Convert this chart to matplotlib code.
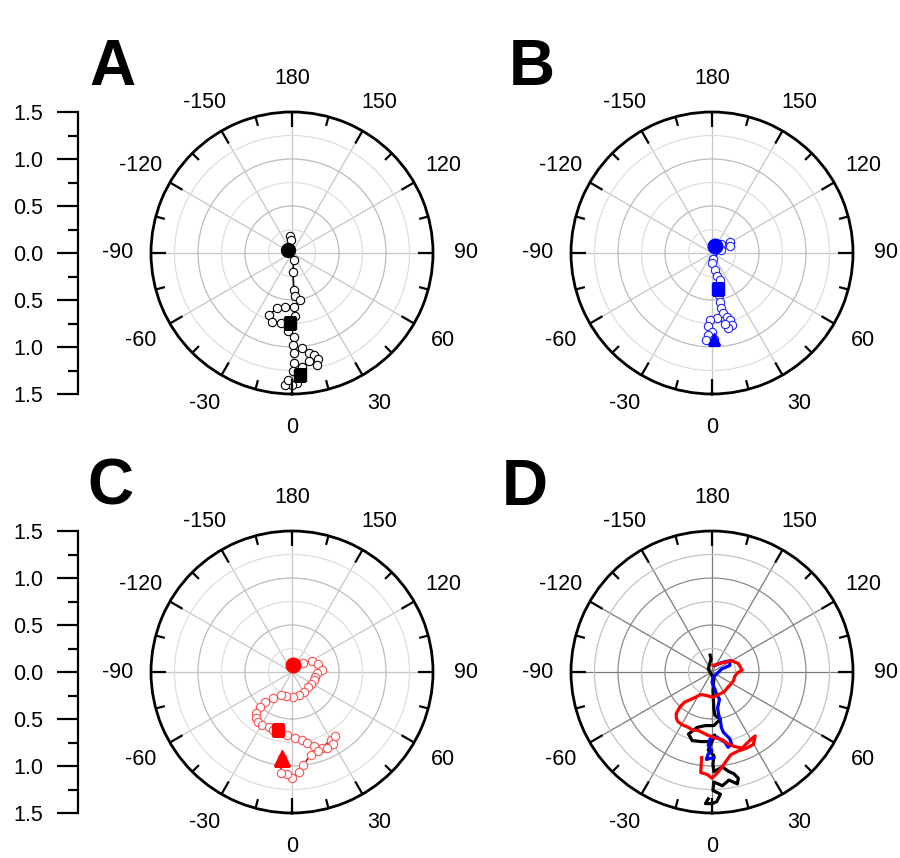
import numpy as np
import matplotlib
matplotlib.use('Agg')
import matplotlib.pyplot as plt

plt.rcParams['font.family'] = ['Liberation Sans', 'DejaVu Sans']

# Trajectories, as (x to the right, y downwards) in radius units
# Panel A (black)
a_x = [-0.02, -0.01, -0.04, 0.02, 0.01, 0.02, 0.03, 0.09, 0.02, -0.07, -0.16, -0.25, -0.21,
       -0.12, -0.02, 0.03, -0.04, 0.02, 0.01, 0.02, 0.11, 0.18, 0.23, 0.28, 0.27, 0.18, 0.11,
       0.02, 0.01, 0.09, 0.05, 0.00, -0.07, -0.04]
a_y = [-0.18, -0.14, -0.03, 0.07, 0.20, 0.39, 0.46, 0.50, 0.57, 0.57, 0.59, 0.66, 0.73,
       0.74, 0.74, 0.67, 0.83, 0.89, 0.98, 1.06, 1.01, 1.06, 1.08, 1.13, 1.19, 1.15, 1.21,
       1.17, 1.26, 1.30, 1.38, 1.40, 1.40, 1.35]
a_marks = [2, 14, 29]   # start, middle, end

# Panel B (blue)
b_x = [0.03, 0.10, 0.19, 0.19, 0.10, 0.01, 0.00, 0.03, 0.05, 0.08, 0.06, 0.07, 0.09, 0.10,
       0.12, 0.16, 0.19, 0.21, 0.17, 0.14, 0.05, -0.02, -0.04, 0.00, -0.04, -0.06, 0.02]
b_y = [-0.07, -0.10, -0.12, -0.07, -0.03, 0.06, 0.11, 0.18, 0.24, 0.29, 0.38, 0.45, 0.52, 0.59,
       0.64, 0.68, 0.71, 0.77, 0.80, 0.75, 0.69, 0.71, 0.78, 0.84, 0.87, 0.93, 0.91]
b_marks = [0, 10, 26]

# Panel C (red)
c_x = [0.01, 0.12, 0.21, 0.28, 0.32, 0.27, 0.24, 0.23, 0.20, 0.17, 0.13, 0.07, 0.01, -0.06,
       -0.12, -0.20, -0.29, -0.34, -0.38, -0.38, -0.36, -0.32, -0.25, -0.20, -0.15, -0.05, 0.03,
       0.11, 0.16, 0.23, 0.32, 0.41, 0.46, 0.44, 0.37, 0.28, 0.20, 0.12, 0.07, 0.00, -0.05,
       -0.12, -0.11]
c_y = [-0.07, -0.10, -0.12, -0.09, -0.02, 0.01, 0.05, 0.09, 0.13, 0.16, 0.21, 0.24, 0.27, 0.25,
       0.24, 0.28, 0.32, 0.37, 0.44, 0.49, 0.53, 0.56, 0.59, 0.62, 0.62, 0.67, 0.70,
       0.72, 0.76, 0.79, 0.81, 0.72, 0.68, 0.77, 0.81, 0.84, 0.88, 0.99, 1.06, 1.13, 1.09,
       1.07, 0.91]
c_marks = [0, 24, 42]

angle_ticks = [0, 30, 60, 90, 120, 150, 180, 210, 240, 270, 300, 330]
angle_labels = ['0', '30', '60', '90', '120', '150', '180', '-150', '-120', '-90', '-60', '-30']
minor_angles = [15, 45, 75, 105, 135, 165, 195, 225, 255, 285, 315, 345]
ring_levels = [0.25, 0.5, 0.75, 1.0, 1.25]
scale_ticks = [-1.5, -1.0, -0.5, 0.0, 0.5, 1.0, 1.5]


def to_polar(x, y):
    x = np.asarray(x)
    y = np.asarray(y)
    return np.arctan2(x, y), np.hypot(x, y)


W, H = 900, 858
R = 141
fig = plt.figure(figsize=(W / 100, H / 100), dpi=100)


def polar_panel(cx, cy, dark=False):
    ax = fig.add_axes([(cx - R) / W, (H - cy - R) / H, 2 * R / W, 2 * R / H], projection='polar')
    ax.set_theta_zero_location('S')
    ax.set_theta_direction(1)
    ax.set_ylim(0, 1.5)
    ax.set_thetagrids(angle_ticks, angle_labels)
    ax.set_rgrids(ring_levels, labels=[''] * len(ring_levels))
    ax.tick_params(axis='x', which='major', direction='in', length=0, pad=17,
                   labelsize=15.5, colors='black')
    ax.tick_params(axis='y', length=0)
    spoke = '#7a7a7a' if dark else '#c6c6c6'
    for gl in ax.xaxis.get_gridlines():
        gl.set_color(spoke)
        gl.set_linewidth(0.9)
        gl.set_linestyle('-')
    for lvl, gl in zip(ring_levels, ax.yaxis.get_gridlines()):
        if lvl in (0.5, 1.0):
            gl.set_color('#8c8c8c' if dark else '#bcbcbc')
        else:
            gl.set_color('#c4c4c4' if dark else '#dedede')
        gl.set_linewidth(0.9)
        gl.set_linestyle('-')
    # inward ticks on the rim: long every 30 deg, short in between
    ax.vlines(np.deg2rad(angle_ticks), 1.5 - 0.155, 1.5, color='black', lw=1.6, zorder=6)
    ax.vlines(np.deg2rad(minor_angles), 1.5 - 0.10, 1.5, color='black', lw=1.6, zorder=6)
    ax.spines['polar'].set_linewidth(2.0)
    ax.spines['polar'].set_color('black')
    ax.set_facecolor('white')
    return ax


def trajectory(ax, x, y, line_c, edge_c):
    th, r = to_polar(x, y)
    ax.plot(th, r, '-', color=line_c, lw=1.1, zorder=3)
    ax.plot(th, r, 'o', ms=6, mfc='white', mec=edge_c, mew=0.8, zorder=4)
    return th, r


def scale_bar(cy):
    sb = fig.add_axes([78 / W, (H - cy - R) / H, 0.02, 2 * R / H])
    sb.set_ylim(-1.5, 1.5)
    sb.set_xlim(0, 1)
    for s in ['top', 'right', 'bottom']:
        sb.spines[s].set_visible(False)
    sb.spines['left'].set_linewidth(1.6)
    sb.set_xticks([])
    sb.set_yticks(scale_ticks)
    sb.set_yticklabels(['%.1f' % abs(v) for v in scale_ticks])
    sb.set_yticks(np.arange(-1.25, 1.5, 0.5), minor=True)
    sb.tick_params(axis='y', which='major', length=15, width=1.6, pad=10, labelsize=15.5)
    sb.tick_params(axis='y', which='minor', length=7, width=1.6)
    sb.patch.set_alpha(0)


top_cy, bot_cy = 253, 672

# A
axA = polar_panel(292, top_cy)
thA, rA = trajectory(axA, a_x, a_y, 'black', 'black')
axA.plot(thA[a_marks[0]], rA[a_marks[0]], 'o', ms=10, color='black', zorder=5)
axA.plot(thA[a_marks[1]], rA[a_marks[1]], 's', ms=8, color='black', zorder=5)
axA.plot(thA[a_marks[2]], rA[a_marks[2]], 's', ms=8.5, color='black', zorder=5)

# B
axB = polar_panel(712, top_cy)
thB, rB = trajectory(axB, b_x, b_y, '#0000ee', '#2222ff')
axB.plot(thB[b_marks[0]], rB[b_marks[0]], 'o', ms=10.5, color='#0000ff', zorder=5)
axB.plot(thB[b_marks[1]], rB[b_marks[1]], 's', ms=9, color='#0000ff', zorder=5)
axB.plot(thB[b_marks[2]], rB[b_marks[2]], '^', ms=9, color='#0000ff', zorder=5)

# C
axC = polar_panel(292, bot_cy)
thC, rC = trajectory(axC, c_x, c_y, '#b00000', '#ff5050')
axC.plot(thC[c_marks[0]], rC[c_marks[0]], 'o', ms=10.5, color='#ff0000', zorder=5)
axC.plot(thC[c_marks[1]], rC[c_marks[1]], 's', ms=9, color='#ff0000', zorder=5)
axC.plot(thC[c_marks[2]], rC[c_marks[2]], '^', ms=11, color='#ff0000', zorder=5)

# D: all three trajectories as lines
axD = polar_panel(712, bot_cy, dark=True)
axD.plot(*to_polar(a_x, a_y), color='black', lw=2.3, zorder=3)
axD.plot(*to_polar(b_x, b_y), color='#0000ff', lw=2.3, zorder=4)
axD.plot(*to_polar(c_x, c_y), color='#ff0000', lw=2.3, zorder=5)

scale_bar(top_cy)
scale_bar(bot_cy)

letter_font = dict(fontsize=46, fontweight='bold', ha='center', va='center')
fig.text(112 / W, 1 - 68 / H, 'A', **letter_font)
fig.text(532 / W, 1 - 68 / H, 'B', **letter_font)
fig.text(110 / W, 1 - 488 / H, 'C', **letter_font)
fig.text(525 / W, 1 - 488 / H, 'D', **letter_font)

fig.savefig('out.png', dpi=100, facecolor='white')
